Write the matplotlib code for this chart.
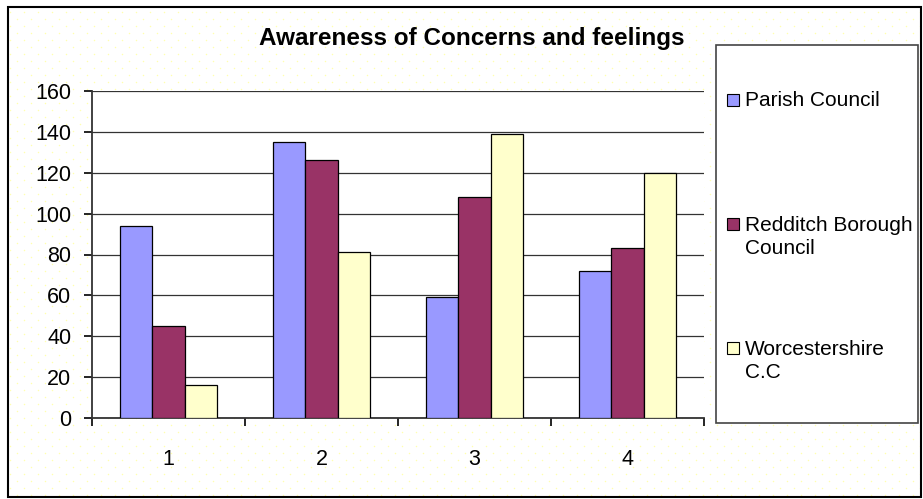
import numpy as np
import matplotlib.pyplot as plt
from matplotlib.patches import Rectangle

categories = ['1', '2', '3', '4']
parish = [94, 135, 59, 72]
redditch = [45, 126, 108, 83]
worcs = [16, 81, 139, 120]
series_names = ['Parish Council', 'Redditch Borough\nCouncil', 'Worcestershire\nC.C']
colors = ['#9999FF', '#993366', '#FFFFCC']

plt.rcParams['font.family'] = ['Liberation Sans', 'DejaVu Sans']

fig = plt.figure(figsize=(9.23, 4.99), dpi=100)
W, H = 923, 499

# faint dotted background (chart-area pattern)
bg = fig.add_axes([0, 0, 1, 1], zorder=-10)
bg.set_xlim(0, W)
bg.set_ylim(H, 0)
bg.axis('off')
gx, gy = np.meshgrid(np.arange(10, W, 14), np.arange(12, H, 14))
bg.scatter(gx.ravel(), gy.ravel(), s=1.2, color='#FFFFB0', linewidths=0)
bg.scatter(gx.ravel() + 7, gy.ravel() + 7, s=1.2, color='#FFFFB0', linewidths=0)

ax = fig.add_axes([92 / W, 1 - 418 / H, (704 - 92) / W, (418 - 91) / H])

x = np.arange(len(categories))
bw = 0.212
for k, vals in enumerate([parish, redditch, worcs]):
    ax.bar(x + (k - 1) * bw, vals, bw, color=colors[k], edgecolor='black',
           linewidth=0.9, zorder=3)

ax.set_xlim(-0.5, 3.5)
ax.set_ylim(0, 160)
ax.set_yticks(range(0, 161, 20))
ax.yaxis.grid(True, color='#333333', linewidth=0.9, zorder=0)
ax.set_xticks([-0.5, 0.5, 1.5, 2.5, 3.5])
ax.set_xticklabels([])
ax.set_xticks(x, minor=True)
ax.set_xticklabels(categories, minor=True, fontsize=15.5)
ax.tick_params(axis='x', which='major', direction='out', length=6, width=1.2)
ax.tick_params(axis='x', which='minor', length=0, pad=22)
ax.tick_params(axis='y', direction='out', length=6, width=1.2, labelsize=15.5, pad=9)
for s in ['top', 'right']:
    ax.spines[s].set_visible(False)
for s in ['left', 'bottom']:
    ax.spines[s].set_linewidth(1.3)
    ax.spines[s].set_color('#333333')

fig.text(472 / W, 1 - 38 / H, 'Awareness of Concerns and feelings', ha='center',
         va='center', fontsize=17.5, fontweight='bold')

# outer frame and legend box
fig.patches.append(Rectangle((8 / W, 1 - 497 / H), (921 - 8) / W, (497 - 7) / H,
                             transform=fig.transFigure, fill=False,
                             edgecolor='black', linewidth=1.5))
fig.patches.append(Rectangle((716 / W, 1 - 423 / H), (918 - 716) / W, (423 - 45) / H,
                             transform=fig.transFigure, facecolor='white',
                             edgecolor='#444444', linewidth=1.2))

marker_y = [100, 224, 348]
text_y = [100, 237, 361]
for k in range(3):
    fig.patches.append(Rectangle((727 / W, 1 - (marker_y[k] + 6) / H), 12 / W, 12 / H,
                                 transform=fig.transFigure,
                                 facecolor=colors[k], edgecolor='black', linewidth=0.8))
    fig.text(745 / W, 1 - text_y[k] / H, series_names[k], ha='left', va='center',
             fontsize=15, linespacing=1.28)

fig.savefig('out.png', dpi=100)
